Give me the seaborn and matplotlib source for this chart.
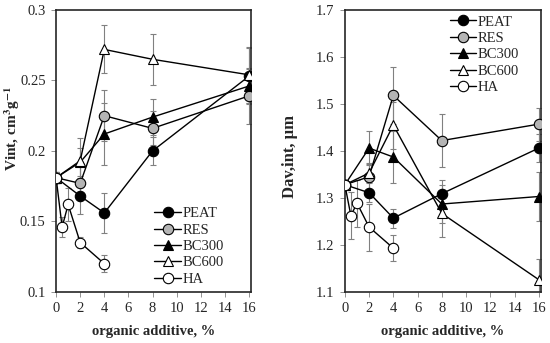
import numpy as np
import matplotlib
matplotlib.use("Agg")
import matplotlib.pyplot as plt
import seaborn as sns

sns.set_style("ticks")
plt.rcParams['font.family'] = ['Liberation Serif', 'DejaVu Serif']
plt.rcParams['mathtext.fontset'] = 'stix'

# data
x_main = [0, 2, 4, 8, 16]
x_ha = [0, 0.5, 1, 2, 4]
series = ['PEAT', 'RES', 'BC300', 'BC600', 'HA']

vint = {
    'PEAT':  [0.181, 0.168, 0.156, 0.200, 0.253],
    'RES':   [0.181, 0.177, 0.225, 0.216, 0.239],
    'BC300': [0.181, 0.192, 0.212, 0.224, 0.246],
    'BC600': [0.181, 0.193, 0.272, 0.265, 0.254],
    'HA':    [0.181, 0.146, 0.162, 0.135, 0.120],
}
vint_err = {
    'PEAT':  [0.004, 0.013, 0.014, 0.010, 0.020],
    'RES':   [0.004, 0.012, 0.018, 0.012, 0.020],
    'BC300': [0.004, 0.010, 0.022, 0.013, 0.012],
    'BC600': [0.004, 0.016, 0.017, 0.018, 0.020],
    'HA':    [0.004, 0.007, 0.012, 0.004, 0.006],
}
dav = {
    'PEAT':  [1.328, 1.311, 1.257, 1.309, 1.406],
    'RES':   [1.328, 1.345, 1.518, 1.422, 1.457],
    'BC300': [1.328, 1.406, 1.387, 1.287, 1.303],
    'BC600': [1.328, 1.353, 1.455, 1.267, 1.126],
    'HA':    [1.328, 1.262, 1.289, 1.238, 1.193],
}
dav_err = {
    'PEAT':  [0.010, 0.020, 0.020, 0.030, 0.030],
    'RES':   [0.010, 0.030, 0.060, 0.057, 0.035],
    'BC300': [0.010, 0.036, 0.055, 0.040, 0.053],
    'BC600': [0.010, 0.020, 0.050, 0.050, 0.045],
    'HA':    [0.010, 0.050, 0.050, 0.050, 0.028],
}

styles = {
    'PEAT':  dict(marker='o', mfc='black'),
    'RES':   dict(marker='o', mfc='#b4b4b4'),
    'BC300': dict(marker='^', mfc='black'),
    'BC600': dict(marker='^', mfc='white'),
    'HA':    dict(marker='o', mfc='white'),
}

fig = plt.figure(figsize=(5.5, 3.43), dpi=100)
ax1 = fig.add_axes([0.102, 0.149, 0.355, 0.822])
ax2 = fig.add_axes([0.627, 0.149, 0.357, 0.822])


def draw(ax, vals, errs):
    for s in series:
        xs = x_ha if s == 'HA' else x_main
        ax.errorbar(xs, vals[s], yerr=errs[s], fmt='none', ecolor='#808080',
                    elinewidth=0.8, capsize=2.5, capthick=0.8, zorder=1)
    for s in series:
        xs = x_ha if s == 'HA' else x_main
        sns.lineplot(x=xs, y=vals[s], ax=ax, color='black', lw=1.0,
                     marker=styles[s]['marker'], markersize=7.5,
                     markerfacecolor=styles[s]['mfc'], markeredgecolor='black',
                     markeredgewidth=0.8, label=s, sort=False,
                     estimator=None, zorder=3)
    ax.set_xlim(0, 16.2)
    ax.set_xticks(range(0, 17, 2))
    for sp in ax.spines.values():
        sp.set_linewidth(1.2)
        sp.set_visible(True)
    ax.tick_params(labelsize=10.5, length=3.5, width=0.6, color='#808080', pad=4)
    ax.set_xlabel('organic additive, %', fontsize=10.5, fontweight='bold', labelpad=7)


draw(ax1, vint, vint_err)
ax1.set_ylim(0.1, 0.3)
ax1.set_yticks([0.1, 0.15, 0.2, 0.25, 0.3])
ax1.set_yticklabels(['0.1', '0.15', '0.2', '0.25', '0.3'])
ax1.set_ylabel('Vint, cm$^\\mathbf{3}$g$^{\\mathbf{-1}}$', fontsize=11, fontweight='bold')
ax1.yaxis.set_label_coords(-0.175, 0.58)
ax1.legend(loc='lower right', frameon=False, fontsize=10.5, handlelength=1.8,
           handletextpad=0.1, labelspacing=0.22, borderaxespad=0.3,
           bbox_to_anchor=(0.91, -0.015))

draw(ax2, dav, dav_err)
ax2.set_ylim(1.1, 1.7)
ax2.set_yticks(np.round(np.arange(1.1, 1.71, 0.1), 1))
ax2.set_ylabel('Dav,int, µm', fontsize=12, fontweight='bold')
ax2.yaxis.set_label_coords(-0.24, 0.48)
ax2.legend(loc='upper right', frameon=False, fontsize=10.5, handlelength=1.8,
           handletextpad=0.1, labelspacing=0.22, borderaxespad=0.2,
           bbox_to_anchor=(0.93, 1.012))

fig.savefig('out.png', dpi=100)
